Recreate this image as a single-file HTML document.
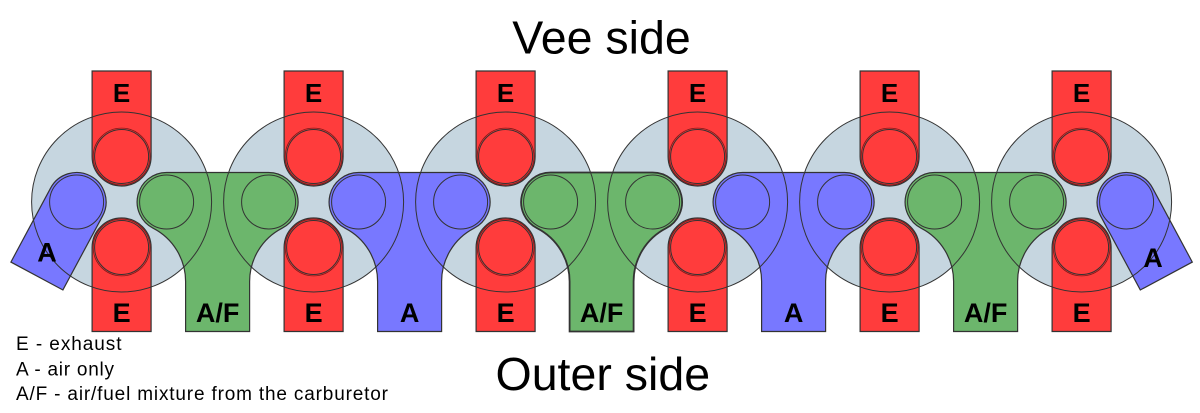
<!DOCTYPE html>
<html><head><meta charset="utf-8"><style>
html,body{margin:0;padding:0;background:#fff;}
svg{display:block;}
</style></head><body>
<svg width="1200" height="413" viewBox="0 0 1200 413" xmlns="http://www.w3.org/2000/svg">
<defs>
  <path id="yport" d="M -51 172.5 L 51 172.5 A 29.5 29.5 0 0 1 64.51 228.22 A 60 60 0 0 0 32 281.56 L 32 331.5 L -32 331.5 L -32 281.56 A 60 60 0 0 0 -64.51 228.22 A 29.5 29.5 0 0 1 -51 172.5 Z"/>
  <path id="etop" d="M -29.5 71 L 29.5 71 L 29.5 156.5 A 29.5 29.5 0 0 1 -29.5 156.5 Z"/>
  <path id="ebot" d="M -29.5 331.5 L -29.5 247.5 A 29.5 29.5 0 0 1 29.5 247.5 L 29.5 331.5 Z"/>
  <path id="aport" d="M -29.5 0 A 29.5 29.5 0 0 1 29.5 0 L 29.5 84 L -29.5 84 Z"/>
</defs>

<!-- cylinder fills -->
<g fill="#c6d6e0">
  <circle cx="121.6" cy="202" r="90"/>
  <circle cx="313.6" cy="202" r="90"/>
  <circle cx="505.6" cy="202" r="90"/>
  <circle cx="697.6" cy="202" r="90"/>
  <circle cx="889.6" cy="202" r="90"/>
  <circle cx="1081.6" cy="202" r="90"/>
</g>

<!-- intake ports -->
<g stroke="#333" stroke-width="1.2">
  <use href="#yport" transform="translate(217.6,0)" fill="#6cb66c"/>
  <use href="#yport" transform="translate(409.6,0)" fill="#7878ff"/>
  <use href="#yport" transform="translate(601.6,0)" fill="#6cb66c" stroke-width="1.8"/>
  <use href="#yport" transform="translate(793.6,0)" fill="#7878ff"/>
  <use href="#yport" transform="translate(985.6,0)" fill="#6cb66c"/>
  <use href="#aport" transform="translate(76.6,202) rotate(28.2)" fill="#7878ff"/>
  <use href="#aport" transform="translate(1126.6,202) rotate(-28.2)" fill="#7878ff"/>
</g>

<!-- exhaust ports -->
<g fill="#ff3c3c" stroke="#333" stroke-width="1.2">
  <g transform="translate(121.6,0)"><use href="#etop"/><use href="#ebot"/></g>
  <g transform="translate(313.6,0)"><use href="#etop"/><use href="#ebot"/></g>
  <g transform="translate(505.6,0)"><use href="#etop"/><use href="#ebot"/></g>
  <g transform="translate(697.6,0)"><use href="#etop"/><use href="#ebot"/></g>
  <g transform="translate(889.6,0)"><use href="#etop"/><use href="#ebot"/></g>
  <g transform="translate(1081.6,0)"><use href="#etop"/><use href="#ebot"/></g>
</g>

<!-- cylinder outlines -->
<g fill="none" stroke="#333" stroke-width="1">
  <circle cx="121.6" cy="202" r="90"/>
  <circle cx="313.6" cy="202" r="90"/>
  <circle cx="505.6" cy="202" r="90"/>
  <circle cx="697.6" cy="202" r="90"/>
  <circle cx="889.6" cy="202" r="90"/>
  <circle cx="1081.6" cy="202" r="90"/>
</g>

<!-- valves -->
<g fill="none" stroke="#333" stroke-width="1">
  <g transform="translate(121.6,0)"><circle cx="0" cy="156.5" r="27"/><circle cx="0" cy="247.5" r="27"/><circle cx="-45" cy="202" r="27"/><circle cx="45" cy="202" r="27"/></g>
  <g transform="translate(313.6,0)"><circle cx="0" cy="156.5" r="27"/><circle cx="0" cy="247.5" r="27"/><circle cx="-45" cy="202" r="27"/><circle cx="45" cy="202" r="27"/></g>
  <g transform="translate(505.6,0)"><circle cx="0" cy="156.5" r="27"/><circle cx="0" cy="247.5" r="27"/><circle cx="-45" cy="202" r="27"/><circle cx="45" cy="202" r="27"/></g>
  <g transform="translate(697.6,0)"><circle cx="0" cy="156.5" r="27"/><circle cx="0" cy="247.5" r="27"/><circle cx="-45" cy="202" r="27"/><circle cx="45" cy="202" r="27"/></g>
  <g transform="translate(889.6,0)"><circle cx="0" cy="156.5" r="27"/><circle cx="0" cy="247.5" r="27"/><circle cx="-45" cy="202" r="27"/><circle cx="45" cy="202" r="27"/></g>
  <g transform="translate(1081.6,0)"><circle cx="0" cy="156.5" r="27"/><circle cx="0" cy="247.5" r="27"/><circle cx="-45" cy="202" r="27"/><circle cx="45" cy="202" r="27"/></g>
</g>
<g fill="none" stroke="#7a1a1a" stroke-width="0.8">
  <circle cx="121.6" cy="156.5" r="28.4"/><circle cx="121.6" cy="247.5" r="28.4"/>
  <circle cx="313.6" cy="156.5" r="28.4"/><circle cx="313.6" cy="247.5" r="28.4"/>
  <circle cx="505.6" cy="156.5" r="28.4"/><circle cx="505.6" cy="247.5" r="28.4"/>
  <circle cx="697.6" cy="156.5" r="28.4"/><circle cx="697.6" cy="247.5" r="28.4"/>
  <circle cx="889.6" cy="156.5" r="28.4"/><circle cx="889.6" cy="247.5" r="28.4"/>
  <circle cx="1081.6" cy="156.5" r="28.4"/><circle cx="1081.6" cy="247.5" r="28.4"/>
</g>

<!-- port labels -->
<g font-family="'Liberation Sans', Arial, sans-serif" font-weight="bold" fill="#000" text-anchor="middle">
  <g font-size="26">
    <text x="121.6" y="102">E</text>
    <text x="313.6" y="102">E</text>
    <text x="505.6" y="102">E</text>
    <text x="697.6" y="102">E</text>
    <text x="889.6" y="102">E</text>
    <text x="1081.6" y="102">E</text>
  </g>
  <g font-size="27">
    <text x="121.6" y="322">E</text>
    <text x="313.6" y="322">E</text>
    <text x="505.6" y="322">E</text>
    <text x="697.6" y="322">E</text>
    <text x="889.6" y="322">E</text>
    <text x="1081.6" y="322">E</text>
    <text x="217.6" y="322">A/F</text>
    <text x="409.6" y="322">A</text>
    <text x="601.6" y="322">A/F</text>
    <text x="793.6" y="322">A</text>
    <text x="985.6" y="322">A/F</text>
    <text x="47" y="261.5">A</text>
    <text x="1153" y="267">A</text>
  </g>
</g>

<!-- titles -->
<g font-family="'Liberation Sans', Arial, sans-serif" fill="#000">
  <text x="601.5" y="53.3" font-size="46.5" text-anchor="middle">Vee side</text>
  <text x="602.8" y="390" font-size="46.5" text-anchor="middle">Outer side</text>
  <text x="16" y="350" font-size="19" textLength="105.5" lengthAdjust="spacing">E - exhaust</text>
  <text x="16" y="375.5" font-size="19" textLength="98" lengthAdjust="spacing">A - air only</text>
  <text x="16" y="400" font-size="19" textLength="372" lengthAdjust="spacing">A/F - air/fuel mixture from the carburetor</text>
</g>
</svg>
</body></html>
